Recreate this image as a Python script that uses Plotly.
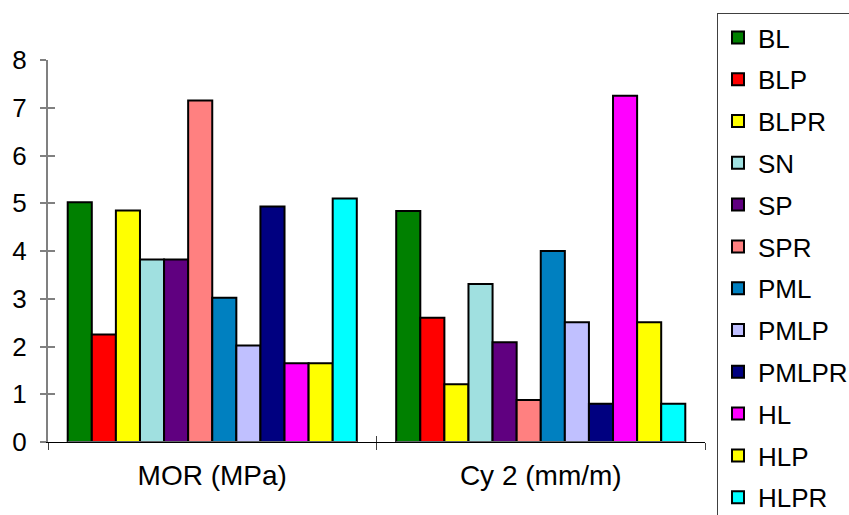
import plotly.graph_objects as go

categories = ["MOR (MPa)", "Cy 2 (mm/m)"]
series_names = ["BL", "BLP", "BLPR", "SN", "SP", "SPR", "PML", "PMLP", "PMLPR", "HL", "HLP", "HLPR"]
mor_values = [5.02, 2.25, 4.85, 3.82, 3.82, 7.15, 3.02, 2.02, 4.93, 1.65, 1.65, 5.10]
cy2_values = [4.84, 2.60, 1.21, 3.31, 2.09, 0.88, 4.00, 2.51, 0.80, 7.25, 2.51, 0.80]
colors = ["#008000", "#FF0000", "#FFFF00", "#A0E0E0", "#600080", "#FF8080",
          "#0080C0", "#C0C0FF", "#000080", "#FF00FF", "#FFFF00", "#00FFFF"]
y_ticks = [0, 1, 2, 3, 4, 5, 6, 7, 8]

FONT = "Arial, Liberation Sans, sans-serif"

fig = go.Figure()
for i, name in enumerate(series_names):
    fig.add_trace(go.Bar(
        name=name,
        x=categories,
        y=[mor_values[i], cy2_values[i]],
        marker=dict(color=colors[i], line=dict(color="black", width=2)),
        legendgroup=name,
    ))

W, H = 849, 515
left, right, top, bottom = 44, 709, 60, 442

fig.update_layout(
    width=W, height=H,
    margin=dict(l=left, r=W - right, t=top, b=H - bottom, pad=0),
    paper_bgcolor="white", plot_bgcolor="white",
    barmode="group", bargap=0.12, bargroupgap=0,
    font=dict(family=FONT, size=25, color="black"),
    showlegend=True,
    legend=dict(
        xref="container", yref="container",
        x=717 / W, y=1 - 13 / H, xanchor="left", yanchor="top",
        bordercolor="#404040", borderwidth=1, bgcolor="white",
        font=dict(family=FONT, size=26, color="black"),
        traceorder="grouped", tracegroupgap=5,
        itemwidth=30, maxheight=700,
    ),
    xaxis=dict(
        type="category", categoryorder="array", categoryarray=categories,
        range=[-0.5, 1.5],
        showline=True, linecolor="black", linewidth=1,
        ticks="outside", tickson="boundaries", ticklen=7, tickcolor="#404040", tickwidth=1,
        showgrid=False, zeroline=False,
        tickfont=dict(family=FONT, size=28, color="black"),
        ticklabelstandoff=8,
    ),
    yaxis=dict(
        range=[0, 8], tickvals=y_ticks,
        showline=True, linecolor="#808080", linewidth=2,
        ticks="outside", ticklen=6, tickcolor="#808080", tickwidth=2,
        showgrid=False, zeroline=False,
        tickfont=dict(family=FONT, size=26, color="black"),
        ticklabelstandoff=8,
    ),
    yaxis2=dict(
        range=[0, 8], tickvals=y_ticks, overlaying="y", side="left",
        showline=False, ticks="inside", ticklen=7, tickcolor="#808080", tickwidth=2,
        showticklabels=False, showgrid=False, zeroline=False,
    ),
    xaxis2=dict(
        type="category", categoryorder="array", categoryarray=categories,
        range=[-0.5, 1.5], overlaying="x", side="bottom",
        showline=False, ticks="inside", tickson="boundaries", ticklen=6,
        tickcolor="#404040", tickwidth=1,
        showticklabels=False, showgrid=False, zeroline=False,
    ),
)

# invisible helper trace so the overlay axes have categories
fig.add_trace(go.Bar(x=categories, y=[0, 0], xaxis="x2", yaxis="y2",
                     showlegend=False, hoverinfo="skip", marker=dict(color="rgba(0,0,0,0)")))

fig.write_html("out.html")
